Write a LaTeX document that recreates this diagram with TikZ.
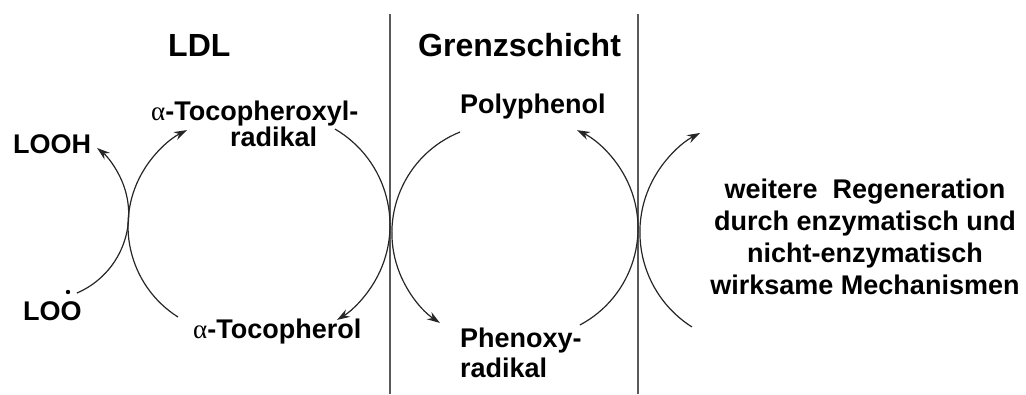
\documentclass[tikz,border=0pt]{standalone}
\usepackage{fontspec}
\setmainfont{Liberation Sans}
\newfontfamily\grk{Liberation Serif}
\usetikzlibrary{arrows.meta}
\begin{document}
\begin{tikzpicture}[x=1pt,y=-1pt,
  lbl/.style={font=\fontsize{27}{32}\selectfont\bfseries, inner sep=0pt, anchor=base west},
  hdr/.style={font=\fontsize{32}{36}\selectfont\bfseries, inner sep=0pt, anchor=base west},
  sep/.style={draw=black!65, line width=1.4pt},
  cyc/.style={draw=black!85, line width=1.2pt},
  cyca/.style={cyc, -{Stealth[length=13pt,width=8.5pt]}}]
\useasboundingbox (0,0) rectangle (1026,394);
% separators
\coordinate (s1t) at (390,14); \coordinate (s1b) at (390,394);
\coordinate (s2t) at (638,14); \coordinate (s2b) at (638,394);
\draw[sep] (s1t) -- (s1b);
\draw[sep] (s2t) -- (s2b);
% headers
\node[hdr] (ldl) at (168,56) {LDL};
\node[hdr] (grenz) at (418,56) {Grenzschicht};
% labels
\node[lbl] (looh) at (13,153) {LOOH};
\node[lbl] (loo) at (23,320) {LOO};
\fill (68,292) circle (2.2);
\node[font=\fontsize{27}{20}\selectfont\bfseries, inner sep=0pt, anchor=north west, align=left] (tocx) at (151,100.3)
  {{\grk\mdseries α}-Tocopheroxyl-\\\hspace*{79pt}radikal};
\node[lbl] (toc) at (193,338) {{\grk\mdseries α}-Tocopherol};
\node[lbl] (poly) at (460,113) {Polyphenol};
\node[font=\fontsize{27}{30}\selectfont\bfseries, inner sep=0pt, anchor=north west, align=left] (phen) at (460,327.3)
  {Phenoxy-\\radikal};
\node[font=\fontsize{27}{32}\selectfont\bfseries, inner sep=0pt, anchor=north, align=center] (weit) at (865,179)
  {weitere\ \ Regeneration\\durch enzymatisch und\\nicht-enzymatisch\\wirksame Mechanismen};
% arcs
\coordinate (cA) at (43.1,214.4);
\coordinate (cB) at (235.7,226.1);
\coordinate (cC) at (278.6,225.1);
\coordinate (cD) at (500.5,232.8);
\coordinate (cE) at (528.5,228.3);
\coordinate (cF) at (752.0,232.3);
\draw[cyca] ([shift={(66.7:85.6)}]cA) arc[start angle=66.7, end angle=-50.9, radius=85.6];
\draw[cyca] ([shift={(122.4:107.7)}]cB) arc[start angle=122.4, end angle=243.1, radius=107.7];
\draw[cyca] ([shift={(-59.6:111.4)}]cC) arc[start angle=-59.6, end angle=58.4, radius=111.4];
\draw[cyca] ([shift={(248.1:108.6)}]cD) arc[start angle=248.1, end angle=123.9, radius=108.6];
\draw[cyca] ([shift={(62:109.5)}]cE) arc[start angle=62, end angle=-63.7, radius=109.5];
\draw[cyca] ([shift={(122.4:112.1)}]cF) arc[start angle=122.4, end angle=242.4, radius=112.1];
\end{tikzpicture}
\end{document}
